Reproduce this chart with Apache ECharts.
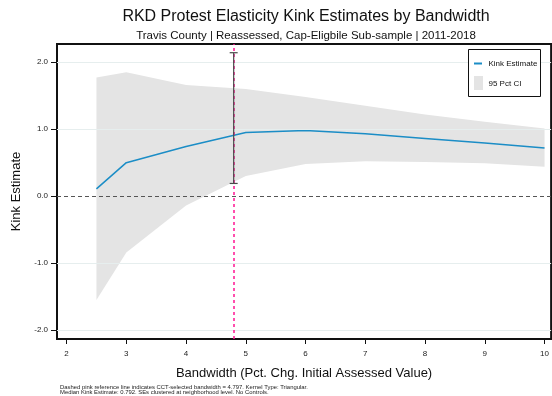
<!DOCTYPE html>
<html>
<head>
<meta charset="utf-8">
<script src="https://cdn.jsdelivr.net/npm/echarts@6/dist/echarts.min.js"></script>
<style>
  html, body { margin: 0; padding: 0; background: #fff; }
  #chart { width: 552px; height: 396px; }
</style>
</head>
<body>
<div id="chart"></div>
<script>
// Bandwidths (pct. change in initial assessed value) and RKD kink estimates
const bandwidths = [2.5, 3, 4, 5, 6, 7, 8, 9, 10];
const kinkEstimate = [0.11, 0.50, 0.74, 0.95, 0.98, 0.93, 0.86, 0.792, 0.72];
const ciUpper = [1.77, 1.85, 1.66, 1.60, 1.48, 1.35, 1.22, 1.11, 1.01];
const ciLower = [-1.55, -0.84, -0.14, 0.30, 0.48, 0.52, 0.51, 0.49, 0.44];

// CCT-selected bandwidth and its estimate's confidence interval
const cctBandwidth = 4.797;
const cctCiLower = 0.19;
const cctCiUpper = 2.14;

// Axis tick values
const xTicks = [2, 3, 4, 5, 6, 7, 8, 9, 10];
const yTicks = [-2, -1, 0, 1, 2];
const yGridLines = [-2, -1, 1, 2];

const FONT = 'Liberation Sans, Arial, Helvetica, sans-serif';

const chart = echarts.init(document.getElementById('chart'), null, { renderer: 'canvas' });

const kinkPairs = bandwidths.map((b, i) => [b, kinkEstimate[i]]);

// CI band: upper bound left to right, then lower bound right to left
function renderBand(params, api) {
  const pts = [];
  for (let i = 0; i < bandwidths.length; i++) pts.push(api.coord([bandwidths[i], ciUpper[i]]));
  for (let i = bandwidths.length - 1; i >= 0; i--) pts.push(api.coord([bandwidths[i], ciLower[i]]));
  return { type: 'polygon', shape: { points: pts }, style: { fill: '#e4e4e4' } };
}

// Legend box (drawn above the plot marks)
const LX = 468, LY = 49;
const legendItems = [
  { type: 'rect', shape: { x: LX + 0.5, y: LY + 0.5, width: 72, height: 47 }, style: { fill: '#fff', stroke: '#111', lineWidth: 1 } },
  { type: 'line', shape: { x1: LX + 6, y1: LY + 14.5, x2: LX + 14, y2: LY + 14.5 }, style: { stroke: '#1b8dc6', lineWidth: 2 } },
  { type: 'text', x: LX + 20.5, y: LY + 14.5, style: { text: 'Kink Estimate', fontFamily: FONT, fontSize: 8, fill: '#111', verticalAlign: 'middle' } },
  { type: 'rect', shape: { x: LX + 6, y: LY + 27, width: 9, height: 14 }, style: { fill: '#e4e4e4' } },
  { type: 'text', x: LX + 20.5, y: LY + 34.5, style: { text: '95 Pct CI', fontFamily: FONT, fontSize: 8, fill: '#111', verticalAlign: 'middle' } }
].map((el, i) => Object.assign(el, { zlevel: 2, z: 100, z2: i + 1, silent: true }));

const option = {
  animation: false,
  backgroundColor: '#ffffff',
  title: [
    {
      text: 'RKD Protest Elasticity Kink Estimates by Bandwidth',
      left: 306, top: 9, textAlign: 'center', padding: 0,
      textStyle: { fontFamily: FONT, fontSize: 16, fontWeight: 'normal', color: '#111' }
    },
    {
      text: 'Travis County | Reassessed, Cap-Eligbile Sub-sample | 2011-2018',
      left: 306, top: 30, textAlign: 'center', padding: 0,
      textStyle: { fontFamily: FONT, fontSize: 11.5, fontWeight: 'normal', color: '#111' }
    }
  ],
  grid: { left: 57, top: 44, right: -2, bottom: 57, show: true, borderColor: '#111', borderWidth: 2, backgroundColor: 'transparent' },
  xAxis: {
    type: 'value', min: 1.84, max: 10.11,
    name: 'Bandwidth (Pct. Chg. Initial Assessed Value)',
    nameLocation: 'middle', nameGap: 28,
    nameTextStyle: { fontFamily: FONT, fontSize: 13, color: '#111' },
    axisLine: { show: false, onZero: false },
    axisTick: { show: true, customValues: xTicks, length: 5, lineStyle: { color: '#111' } },
    axisLabel: { customValues: xTicks, fontFamily: FONT, fontSize: 8, color: '#222', margin: 11 },
    splitLine: { show: false }
  },
  yAxis: {
    type: 'value', min: -2.13, max: 2.27,
    name: 'Kink Estimate',
    nameLocation: 'middle', nameGap: 27,
    nameTextStyle: { fontFamily: FONT, fontSize: 13, color: '#111' },
    axisLine: { show: false, onZero: false },
    axisTick: { show: true, customValues: yTicks, length: 6, lineStyle: { color: '#111' } },
    axisLabel: { customValues: yTicks, fontFamily: FONT, fontSize: 8, color: '#222', margin: 9,
      formatter: v => v.toFixed(1) },
    splitLine: { show: false }
  },
  series: [
    {
      // horizontal reference lines
      type: 'line', data: [], silent: true,
      markLine: {
        symbol: 'none', silent: true, label: { show: false },
        data: yGridLines.map(v => ({ yAxis: v, lineStyle: { color: '#e6eeee', width: 1, type: 'solid' } }))
      },
      z: 1
    },
    {
      name: '95 Pct CI', type: 'custom', silent: true, z: 2,
      data: [[bandwidths[0], ciLower[0]]],
      renderItem: renderBand
    },
    {
      // zero line
      type: 'line', data: [], silent: true, z: 3,
      markLine: {
        symbol: 'none', silent: true, label: { show: false },
        data: [{ yAxis: 0 }],
        lineStyle: { color: '#555', width: 1, type: [4, 3] }
      }
    },
    {
      name: 'Kink Estimate', type: 'line', data: kinkPairs, symbol: 'none',
      lineStyle: { color: '#1b8dc6', width: 1.5 }, z: 4
    },
    {
      // confidence interval at the CCT-selected bandwidth
      type: 'custom', z: 5, silent: true,
      data: [[cctBandwidth, cctCiLower, cctCiUpper]],
      renderItem: (params, api) => {
        const lo = api.coord([api.value(0), api.value(1)]);
        const hi = api.coord([api.value(0), api.value(2)]);
        const cap = 4;
        const style = { stroke: '#4a4a4a', lineWidth: 1.2 };
        return {
          type: 'group',
          children: [
            { type: 'line', shape: { x1: lo[0], y1: lo[1], x2: hi[0], y2: hi[1] }, style },
            { type: 'line', shape: { x1: lo[0] - cap, y1: lo[1], x2: lo[0] + cap, y2: lo[1] }, style },
            { type: 'line', shape: { x1: hi[0] - cap, y1: hi[1], x2: hi[0] + cap, y2: hi[1] }, style }
          ]
        };
      }
    },
    {
      // CCT-selected bandwidth reference line
      type: 'line', data: [], silent: true, z: 6,
      markLine: {
        symbol: 'none', silent: true, label: { show: false },
        data: [{ xAxis: cctBandwidth }],
        lineStyle: { color: '#ff1493', width: 1.5, type: [3, 3] }
      }
    }
  ],
  graphic: legendItems.concat([
    {
      type: 'text', left: 60, top: 384,
      style: {
        text: 'Dashed pink reference line indicates CCT-selected bandwidth = 4.797. Kernel Type: Triangular.\nMedian Kink Estimate: 0.792. SEs clustered at neighborhood level. No Controls.',
        fontFamily: FONT, fontSize: 5.9, lineHeight: 5.6, fill: '#222'
      }
    }
  ])
};

chart.setOption(option);
</script>
</body>
</html>
